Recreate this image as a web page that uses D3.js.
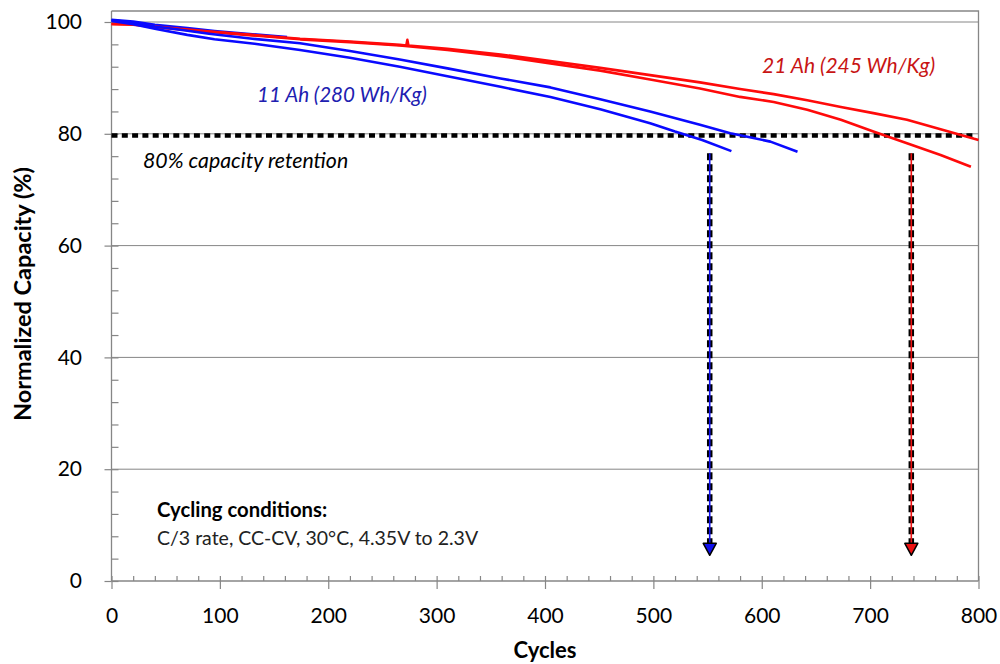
<!DOCTYPE html>
<html>
<head>
<meta charset="utf-8">
<script src="https://cdn.jsdelivr.net/npm/d3@7"></script>
<style>
  body { margin: 0; background: #fff; }
  svg { display: block; }
  text { font-family: Lato, "Open Sans", sans-serif; }
</style>
</head>
<body>
<svg id="chart" width="1000" height="664"></svg>
<script>
// ---- Cycle-life data: normalized capacity (%) vs. cycle number ----
// 11 Ah (280 Wh/Kg) cells
const cellA_cycles   = [0, 20, 40, 60, 90, 130, 174, 220, 266, 310, 359, 405, 451, 497, 543, 571, 589, 608, 633];
const cellA_capacity = [100.3, 99.9, 99.2, 98.7, 97.9, 97.0, 96.2, 94.8, 93.3, 91.7, 89.9, 88.3, 86.2, 84.0, 81.6, 80.1, 79.4, 78.6, 76.8];

const cellB_cycles   = [0, 20, 40, 70, 95, 132, 174, 220, 266, 310, 359, 405, 451, 497, 520, 545, 572];
const cellB_capacity = [100.2, 99.6, 98.8, 97.7, 96.9, 96.1, 95.0, 93.6, 92.0, 90.3, 88.4, 86.6, 84.4, 81.9, 80.4, 78.9, 76.9];

const cellC_cycles   = [0, 20, 40, 70, 95, 130, 162];
const cellC_capacity = [100.4, 100.1, 99.5, 98.9, 98.4, 97.8, 97.3];

// 21 Ah (245 Wh/Kg) cells
const cellD_cycles   = [0, 20, 50, 86, 130, 174, 220, 266, 272, 273, 274, 310, 359, 405, 451, 497, 543, 580, 611, 642, 673, 703, 734, 765, 796, 800];
const cellD_capacity = [99.7, 99.6, 99.0, 98.4, 97.7, 97.0, 96.5, 95.9, 95.8, 96.8, 95.8, 95.2, 94.2, 93.0, 91.8, 90.5, 89.2, 88.0, 87.1, 86.0, 84.8, 83.7, 82.5, 80.8, 79.1, 78.9];

const cellE_cycles   = [0, 20, 50, 86, 130, 174, 220, 266, 310, 359, 405, 451, 497, 543, 580, 611, 642, 673, 703, 734, 765, 793];
const cellE_capacity = [99.6, 99.5, 98.9, 98.3, 97.6, 96.9, 96.4, 95.8, 95.0, 93.9, 92.6, 91.3, 89.7, 88.1, 86.6, 85.7, 84.3, 82.5, 80.4, 78.3, 76.2, 74.1];

// 80% retention threshold and end-of-life markers
const retentionLevel = 79.7;
const eolCycles      = [552, 738];
const eolColors      = ["#1010ee", "#ee1010"];
const eolFrom        = 76.5;
const eolTo          = 4.6;

// Axis ticks
const xTicks      = d3.range(0, 801, 100);
const xMinorTicks = d3.range(0, 801, 20);
const yTicks      = d3.range(0, 101, 20);
const yMinorTicks = d3.range(0, 101, 4);

const series = [
  { cycles: cellC_cycles, capacity: cellC_capacity, color: "#0a0aff" },
  { cycles: cellE_cycles, capacity: cellE_capacity, color: "#ff0a0a" },
  { cycles: cellD_cycles, capacity: cellD_capacity, color: "#ff0a0a" },
  { cycles: cellA_cycles, capacity: cellA_capacity, color: "#0a0aff" },
  { cycles: cellB_cycles, capacity: cellB_capacity, color: "#0a0aff" }
];

// ---- Layout ----
const svg = d3.select("#chart");
const x = d3.scaleLinear().domain([0, 800]).range([111.5, 978.5]);
const y = d3.scaleLinear().domain([0, 100]).range([581, 22]);
const frameTop = 11;
const axisGray = "#868686";

// Horizontal gridlines
svg.append("g")
  .selectAll("line")
  .data(yTicks.filter(v => v > 0))
  .join("line")
  .attr("x1", x(0)).attr("x2", x(800))
  .attr("y1", d => y(d)).attr("y2", d => y(d))
  .attr("stroke", axisGray).attr("stroke-width", 1);

// Plot frame (top and right edges)
svg.append("path")
  .attr("d", `M${x(0)},${frameTop}H${x(800)}V${y(0)}`)
  .attr("fill", "none").attr("stroke", axisGray).attr("stroke-width", 1.3);

// Y axis: major ticks with labels, minor ticks inside
svg.append("g").attr("transform", `translate(${x(0)},0)`)
  .call(d3.axisLeft(y).tickValues(yTicks).tickSize(7).tickPadding(22.5));
svg.append("g").attr("transform", `translate(${x(0)},0)`)
  .call(d3.axisLeft(y).tickValues(yMinorTicks).tickSize(-7).tickFormat(""));

// X axis: major ticks below, minor ticks inside
svg.append("g").attr("transform", `translate(0,${y(0)})`)
  .call(d3.axisBottom(x).tickValues(xTicks).tickSize(8).tickPadding(19));
svg.append("g").attr("transform", `translate(0,${y(0)})`)
  .call(d3.axisBottom(x).tickValues(xMinorTicks).tickSize(-5).tickFormat(""));

svg.selectAll(".domain").remove();
svg.selectAll(".tick line").attr("stroke", axisGray).attr("stroke-width", 1.2);
svg.selectAll(".tick text").attr("font-size", 21).attr("fill", "#000");

// Axis lines
svg.append("line").attr("x1", x(0)).attr("x2", x(0)).attr("y1", frameTop).attr("y2", y(0))
  .attr("stroke", axisGray).attr("stroke-width", 1.3);
svg.append("line").attr("x1", x(0)).attr("x2", x(800)).attr("y1", y(0)).attr("y2", y(0))
  .attr("stroke", axisGray).attr("stroke-width", 1.3);

// 80% capacity retention dotted line
svg.append("line")
  .attr("x1", x(0)).attr("x2", x(797))
  .attr("y1", y(retentionLevel)).attr("y2", y(retentionLevel))
  .attr("stroke", "#000").attr("stroke-width", 4.5)
  .attr("stroke-dasharray", "6 4.3");

// End-of-life markers: dashed drop lines with arrowheads
eolCycles.forEach((c, i) => {
  const g = svg.append("g");
  g.append("line")
    .attr("x1", x(c)).attr("x2", x(c))
    .attr("y1", y(eolFrom)).attr("y2", y(eolTo) - 8)
    .attr("stroke", "#000").attr("stroke-width", 5.5)
    .attr("stroke-dasharray", "7 4");
  g.append("line")
    .attr("x1", x(c)).attr("x2", x(c))
    .attr("y1", y(eolFrom)).attr("y2", y(eolTo) - 8)
    .attr("stroke", eolColors[i]).attr("stroke-width", 1.6);
  const tx = x(c), ty = y(eolTo);
  g.append("path")
    .attr("d", `M${tx - 6.5},${ty - 12}L${tx + 6.5},${ty - 12}L${tx},${ty}Z`)
    .attr("fill", eolColors[i]).attr("stroke", "#000").attr("stroke-width", 1.5)
    .attr("stroke-linejoin", "round");
});

// Capacity curves
const line = d3.line()
  .x(d => x(d[0]))
  .y(d => y(d[1]));

svg.append("g")
  .selectAll("path")
  .data(series)
  .join("path")
  .attr("d", s => line(s.cycles.map((c, i) => [c, s.capacity[i]])))
  .attr("fill", "none")
  .attr("stroke", s => s.color)
  .attr("stroke-width", 2.6)
  .attr("stroke-linejoin", "round");

// Annotations
svg.append("text").attr("x", 257).attr("y", 102)
  .attr("font-size", 20.6).attr("font-style", "italic").attr("fill", "#2020b0")
  .text("11 Ah (280 Wh/Kg)");
svg.append("text").attr("x", 762).attr("y", 73)
  .attr("font-size", 21).attr("font-style", "italic").attr("fill", "#c81414")
  .text("21 Ah (245 Wh/Kg)");
svg.append("text").attr("x", 143).attr("y", 168)
  .attr("font-size", 21.3).attr("font-style", "italic").attr("fill", "#000")
  .text("80% capacity retention");
svg.append("text").attr("x", 157).attr("y", 517)
  .attr("font-size", 20.3).attr("font-weight", "bold").attr("fill", "#000")
  .text("Cycling conditions:");
svg.append("text").attr("x", 157).attr("y", 545)
  .attr("font-size", 19.5).attr("fill", "#222")
  .text("C/3 rate, CC-CV, 30°C, 4.35V to 2.3V");

// Axis titles
svg.append("text")
  .attr("x", 545).attr("y", 658)
  .attr("text-anchor", "middle")
  .attr("font-size", 22).attr("font-weight", "bold")
  .text("Cycles");
svg.append("text")
  .attr("transform", `translate(31,294) rotate(-90)`)
  .attr("text-anchor", "middle")
  .attr("font-size", 23.5).attr("font-weight", "bold")
  .text("Normalized Capacity (%)");
</script>
</body>
</html>
